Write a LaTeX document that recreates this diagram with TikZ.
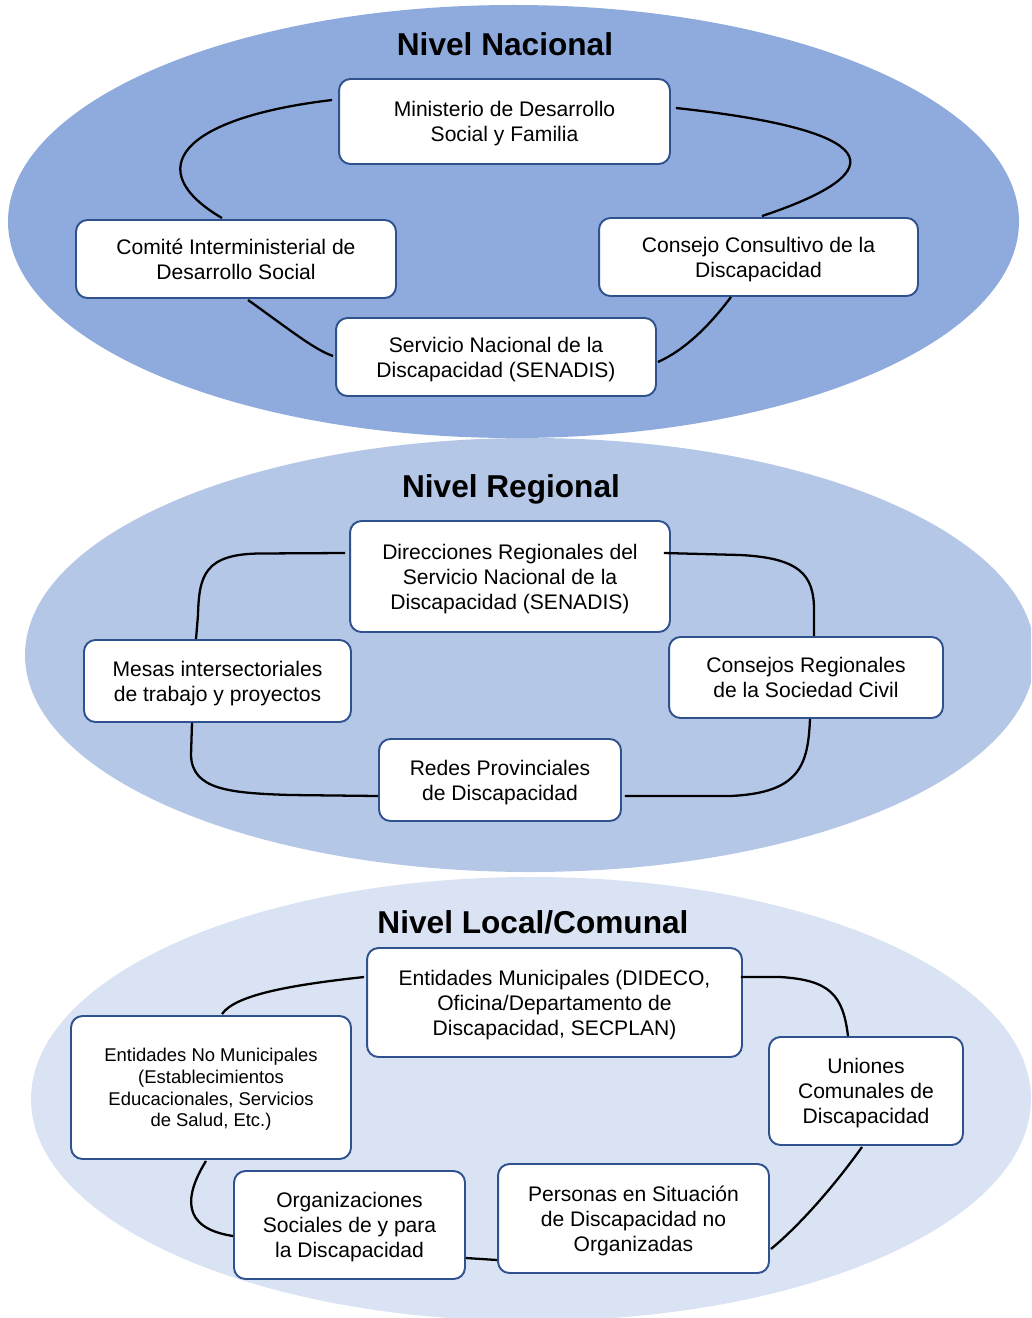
\documentclass[tikz,border=0pt]{standalone}
\usepackage{fontspec}
\setmainfont{Liberation Sans}
\usetikzlibrary{calc}
\definecolor{nacfill}{HTML}{8FAADC}
\definecolor{regfill}{HTML}{B4C7E7}
\definecolor{locfill}{HTML}{DAE3F3}
\definecolor{boxblue}{HTML}{2F528F}
\begin{document}
\begin{tikzpicture}[x=0.02cm,y=-0.02cm,
	box/.style={draw=boxblue,fill=white,line width=1.1pt,rounded corners=6.5pt,inner sep=0pt,align=center,font=\fontsize{12}{14.2}\selectfont,text depth=-1.5pt},
	title/.style={font=\bfseries\fontsize{18}{20}\selectfont},
	link/.style={line width=1.3pt}]
		\useasboundingbox (0,0) rectangle (1031,1318);
		\begin{scope}
		\clip (0,0) rectangle (1031,1318);
		\fill[nacfill] (513.5,221.5) ellipse [x radius=505.5,y radius=216.5];
		\fill[regfill] (530,655) ellipse [x radius=505,y radius=217];
		\fill[locfill] (531,1099) ellipse [x radius=500,y radius=222];
		\end{scope}
		% nivel nacional
		\node[title] (tnac) at (505,44) {Nivel Nacional};
		\node[box,minimum width=6.62cm,minimum height=1.70cm] (min) at (504.5,121.5) {Ministerio de Desarrollo\\Social y Familia};
		\node[box,minimum width=6.4cm,minimum height=1.56cm] (cim) at (236,259) {Comité Interministerial de\\Desarrollo Social};
		\node[box,minimum width=6.38cm,minimum height=1.56cm] (ccd) at (758.5,257) {Consejo Consultivo de la\\Discapacidad};
		\node[box,minimum width=6.4cm,minimum height=1.56cm] (sen) at (496,357) {Servicio Nacional de la\\Discapacidad (SENADIS)};
		\draw[link] ($(min.west)+(-6,-21.5)$) .. controls (180,118) and (140,170) .. ($(cim.north)+(-14,-1)$);
		\draw[link] ($(min.east)+(5,-13.5)$) .. controls (880,130) and (900,170) .. ($(ccd.north)+(3.5,-1)$);
		\draw[link] ($(cim.south)+(12,1)$) .. controls (290,330) and (315,350) .. ($(sen.west)+(-2,-1)$);
		\draw[link] ($(ccd.south)+(-27.5,0)$) .. controls (710,325) and (685,350) .. ($(sen.east)+(1,5)$);
		% nivel regional
		\node[title] (treg) at (511,489) {Nivel Regional};
		\node[box,minimum width=6.4cm,minimum height=2.22cm] (dir) at (510,576.5) {Direcciones Regionales del\\Servicio Nacional de la\\Discapacidad (SENADIS)};
		\node[box,minimum width=5.34cm,minimum height=1.64cm] (mes) at (217.5,681) {Mesas intersectoriales\\de trabajo y proyectos};
		\node[box,minimum width=5.48cm,minimum height=1.62cm] (crs) at (806,677.5) {Consejos Regionales\\de la Sociedad Civil};
		\node[box,minimum width=4.84cm,minimum height=1.64cm] (red) at (500,780) {Redes Provinciales\\de Discapacidad};
		\draw[link] ($(dir.west)+(-4,-23.5)$) -- (260,553.5) .. controls (205,554) and (199,575) .. (198,615) -- ($(mes.north)+(-21.5,0)$);
		\draw[link] ($(dir.east)+(-7,-23.5)$) -- (740,555) .. controls (800,558) and (814,575) .. (814,610) -- ($(crs.north)+(8,0)$);
		\draw[link] ($(mes.south)+(-25.5,0)$) -- (191,755) .. controls (192,790) and (230,793) .. (290,795) -- ($(red.west)+(0,16)$);
		\draw[link] ($(crs.south)+(4,0)$) .. controls (808,765) and (800,793) .. (730,796) -- ($(red.east)+(3,16)$);
		% nivel local/comunal
		\node[title] (tloc) at (533,922) {Nivel Local/Comunal};
		\node[box,minimum width=7.5cm,minimum height=2.18cm] (mun) at (554.5,1002.5) {Entidades Municipales (DIDECO,\\Oficina/Departamento de\\Discapacidad, SECPLAN)};
		\node[box,minimum width=5.6cm,minimum height=2.86cm,font=\fontsize{10.5}{12.3}\selectfont] (nom) at (211,1087.5) {Entidades No Municipales\\(Establecimientos\\Educacionales, Servicios\\de Salud, Etc.)};
		\node[box,minimum width=3.88cm,minimum height=2.16cm] (uni) at (866,1091) {Uniones\\Comunales de\\Discapacidad};
		\node[box,minimum width=4.62cm,minimum height=2.16cm] (org) at (349.5,1225) {Organizaciones\\Sociales de y para\\la Discapacidad};
		\node[box,minimum width=5.42cm,minimum height=2.18cm] (per) at (633.5,1218.5) {Personas en Situación\\de Discapacidad no\\Organizadas};
		\draw[link] ($(mun.west)+(-2,-25.5)$) .. controls (290,985) and (235,995) .. ($(nom.north)+(11,-1)$);
		\draw[link] ($(mun.east)+(-2,-25.5)$) -- (780,977) .. controls (830,980) and (843,995) .. ($(uni.north)+(-18,0)$);
		\draw[link] ($(nom.south)+(-5,1)$) .. controls (185,1195) and (180,1228) .. ($(org.west)+(0,11)$);
		\draw[link] ($(org.east)+(0,33)$) -- ($(per.west)+(0,41.5)$);
		\draw[link] ($(uni.south)+(-4,1)$) .. controls (835,1185) and (800,1225) .. ($(per.east)+(1,30.5)$);
\end{tikzpicture}
\end{document}
